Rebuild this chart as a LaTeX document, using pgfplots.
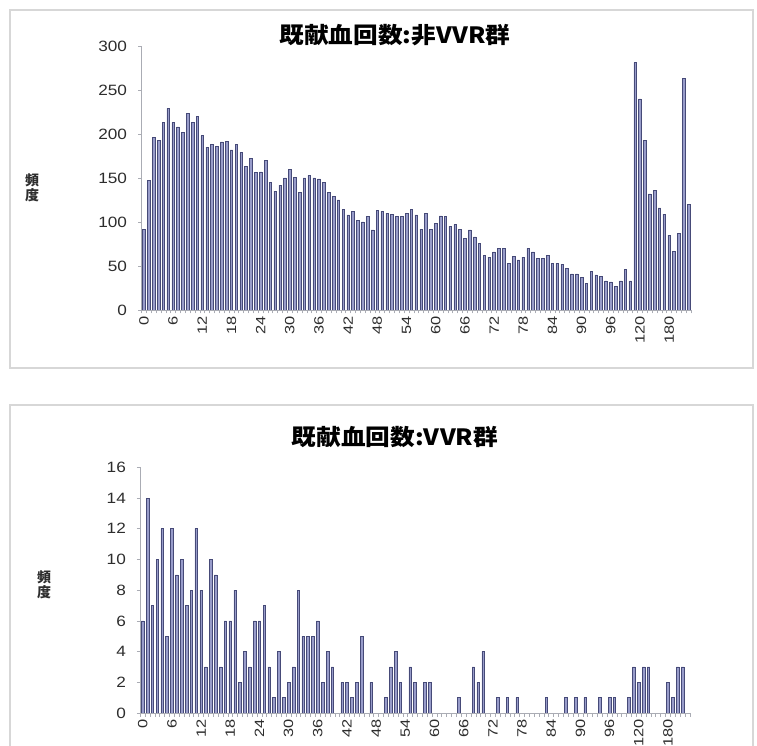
\documentclass[border=0pt]{standalone}
\usepackage{fontspec}
\setmainfont{Liberation Sans}
\newfontfamily\jp{Noto Sans CJK JP}
\usepackage{pgfplots}
\pgfplotsset{compat=1.18}

\definecolor{barfill}{RGB}{152,156,202}
\definecolor{baredge}{RGB}{70,74,120}
\definecolor{axisgray}{RGB}{170,172,180}
\definecolor{framegray}{RGB}{215,215,215}
\definecolor{labeltext}{RGB}{45,45,45}

\pgfplotsset{
  donorbars/.style={
    scale only axis, anchor=south west,
    width=549.5bp,
    xmin=-0.5, xmax=112.5, ymin=0,
    axis x line=bottom, axis y line=left,
    axis line style={axisgray, line width=0.8bp, -},
    xtick={-0.5,0.5,...,112.5}, xticklabels={},
    extra x ticks={0,6,...,108},
    extra x tick labels={0,6,12,18,24,30,36,42,48,54,60,66,72,78,84,90,96,120,180},
    extra x tick style={major tick length=0pt, tick style={draw=none},
      tick label style={rotate=90, xscale=1.22, anchor=east, inner xsep=5bp,
        font=\fontsize{13.5}{13.5}\selectfont, text=labeltext}},
    tick style={axisgray, line width=0.6bp},
    major tick length=3.5bp,
    tick align=outside,
    /pgf/number format/assume math mode=true,
    yticklabel style={font=\fontsize{15}{15}\selectfont, xscale=1.15, text=labeltext, xshift=-6bp},
    ybar, bar width=2.6bp,
  },
}

\begin{document}
\begin{tikzpicture}
\useasboundingbox (0bp,0bp) rectangle (757bp,746bp);
\clip (0bp,0bp) rectangle (757bp,746bp);
\fill[white] (0bp,0bp) rectangle (757bp,746bp);

% chart-area frames
\draw[framegray, line width=1.2bp] (10bp,378bp) rectangle (753bp,736bp);
\draw[framegray, line width=1.2bp] (10bp,-20bp) rectangle (753bp,341bp);

% ---------- non-VVR group ----------
\begin{axis}[donorbars, at={(141.5bp,436bp)}, height=264bp,
  ymax=300, ytick={0,50,...,300}]
\addplot[fill=barfill, draw=baredge, line width=0.55bp] coordinates {
(0,92) (1,147) (2,196) (3,193) (4,213) (5,229) (6,213) (7,208) (8,202) (9,223)
(10,213) (11,220) (12,198) (13,185) (14,188) (15,186) (16,191) (17,192) (18,182) (19,188)
(20,179) (21,163) (22,172) (23,156) (24,157) (25,170) (26,145) (27,135) (28,142) (29,150)
(30,160) (31,151) (32,134) (33,150) (34,153) (35,150) (36,149) (37,145) (38,134) (39,129)
(40,125) (41,114) (42,108) (43,112) (44,102) (45,100) (46,106) (47,91) (48,113) (49,112)
(50,110) (51,109) (52,106) (53,106) (54,110) (55,114) (56,108) (57,92) (58,110) (59,92)
(60,98) (61,107) (62,106) (63,95) (64,97) (65,92) (66,81) (67,91) (68,83) (69,76)
(70,62) (71,60) (72,66) (73,70) (74,70) (75,53) (76,61) (77,57) (78,60) (79,70)
(80,66) (81,59) (82,59) (83,62) (84,53) (85,53) (86,52) (87,47) (88,41) (89,41)
(90,37) (91,30) (92,44) (93,40) (94,38) (95,33) (96,32) (97,27) (98,33) (99,46)
(100,33) (101,281) (102,240) (103,193) (104,132) (105,136) (106,116) (107,109) (108,85) (109,67)
(110,87) (111,263) (112,120)
};
\end{axis}
\node[font=\jp\bfseries\fontsize{22.5}{22.5}\selectfont, xscale=1.1] at (395bp,711bp) {既献血回数:非VVR群};
\node[font=\jp\bfseries\fontsize{14}{15}\selectfont, text=labeltext, align=center] at (32bp,558bp) {頻\\度};

% ---------- VVR group ----------
\begin{axis}[donorbars, at={(140.3bp,33bp)}, height=245.7bp,
  ymax=16, ytick={0,2,...,16}]
\addplot[fill=barfill, draw=baredge, line width=0.55bp] coordinates {
(0,6) (1,14) (2,7) (3,10) (4,12) (5,5) (6,12) (7,9) (8,10) (9,7)
(10,8) (11,12) (12,8) (13,3) (14,10) (15,9) (16,3) (17,6) (18,6) (19,8)
(20,2) (21,4) (22,3) (23,6) (24,6) (25,7) (26,3) (27,1) (28,4) (29,1)
(30,2) (31,3) (32,8) (33,5) (34,5) (35,5) (36,6) (37,2) (38,4) (39,3)
(40,0) (41,2) (42,2) (43,1) (44,2) (45,5) (46,0) (47,2) (48,0) (49,0)
(50,1) (51,3) (52,4) (53,2) (54,0) (55,3) (56,2) (57,0) (58,2) (59,2)
(60,0) (61,0) (62,0) (63,0) (64,0) (65,1) (66,0) (67,0) (68,3) (69,2)
(70,4) (71,0) (72,0) (73,1) (74,0) (75,1) (76,0) (77,1) (78,0) (79,0)
(80,0) (81,0) (82,0) (83,1) (84,0) (85,0) (86,0) (87,1) (88,0) (89,1)
(90,0) (91,1) (92,0) (93,0) (94,1) (95,0) (96,1) (97,1) (98,0) (99,0)
(100,1) (101,3) (102,2) (103,3) (104,3) (105,0) (106,0) (107,0) (108,2) (109,1)
(110,3) (111,3) (112,0)
};
\end{axis}
\node[font=\jp\bfseries\fontsize{22.5}{22.5}\selectfont, xscale=1.1] at (395bp,309bp) {既献血回数:VVR群};
\node[font=\jp\bfseries\fontsize{14}{15}\selectfont, text=labeltext, align=center] at (44bp,161bp) {頻\\度};
\end{tikzpicture}
\end{document}
